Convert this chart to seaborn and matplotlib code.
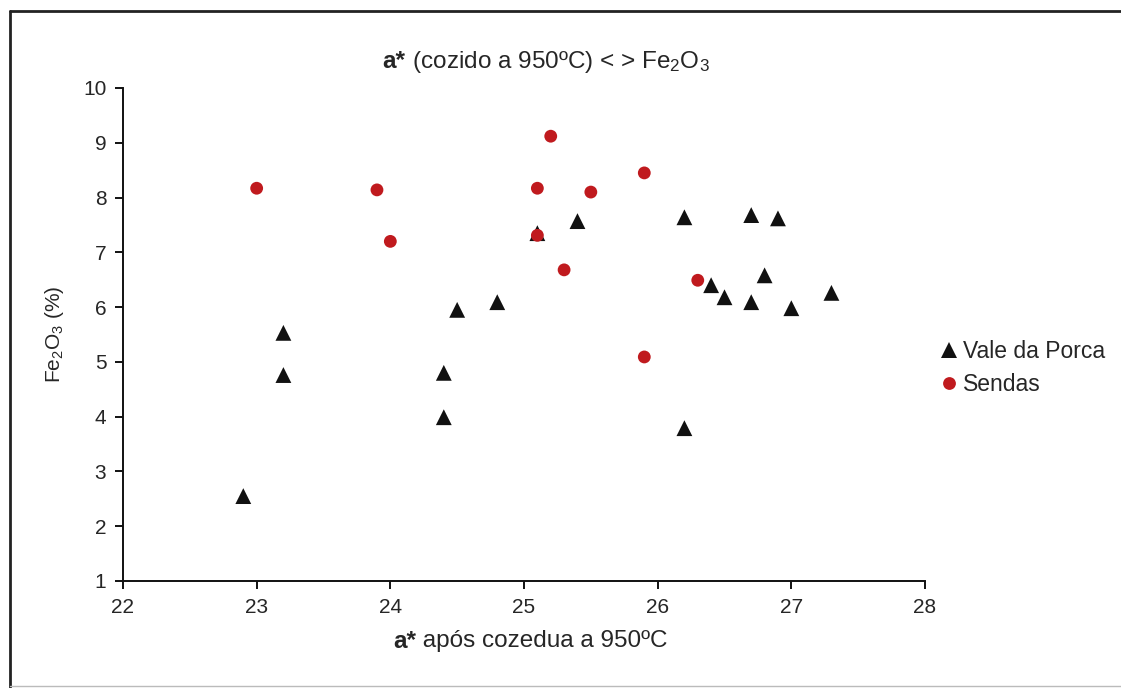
import matplotlib
matplotlib.use("Agg")
import matplotlib.pyplot as plt
import seaborn as sns
import pandas as pd
from matplotlib.lines import Line2D
from matplotlib.offsetbox import TextArea, HPacker, AnnotationBbox

# values
vale_x = [22.9, 23.2, 23.2, 24.4, 24.4, 24.5, 24.8, 25.1, 25.4, 26.2,
          26.2, 26.4, 26.5, 26.7, 26.7, 26.8, 26.9, 27.0, 27.3]
vale_y = [2.55, 5.53, 4.76, 4.80, 3.99, 5.95, 6.09, 7.35, 7.57, 7.64,
          3.79, 6.40, 6.18, 7.68, 6.09, 6.58, 7.62, 5.98, 6.26]
sendas_x = [23.0, 23.9, 24.0, 25.1, 25.1, 25.2, 25.3, 25.5, 25.9, 25.9, 26.3]
sendas_y = [8.17, 8.14, 7.20, 8.17, 7.31, 9.12, 6.68, 8.10, 8.45, 5.09, 6.49]

groups = ["Vale da Porca", "Sendas"]
x_ticks = [22, 23, 24, 25, 26, 27, 28]
y_ticks = [1, 2, 3, 4, 5, 6, 7, 8, 9, 10]

df = pd.concat([
    pd.DataFrame({"a": vale_x, "fe": vale_y, "local": groups[0]}),
    pd.DataFrame({"a": sendas_x, "fe": sendas_y, "local": groups[1]}),
], ignore_index=True)

sns.set_style("ticks")
plt.rcParams["font.family"] = ["Liberation Sans", "DejaVu Sans"]
plt.rcParams["mathtext.fontset"] = "custom"
plt.rcParams["mathtext.rm"] = "Liberation Sans"
plt.rcParams["mathtext.it"] = "Liberation Sans"

fig = plt.figure(figsize=(11.21, 6.88), dpi=100)
fig.patch.set_facecolor("white")
ax = fig.add_axes([123 / 1121, 1 - 581 / 688, (925 - 123) / 1121, (581 - 88) / 688])

sns.scatterplot(data=df, x="a", y="fe", hue="local", style="local",
                palette={groups[0]: "#111111", groups[1]: "#c01a1e"},
                markers={groups[0]: "^", groups[1]: "o"},
                size="local", sizes={groups[0]: 130, groups[1]: 85},
                linewidth=0, ax=ax)

ax.set_xlim(22, 28)
ax.set_ylim(1, 10)
ax.set_xticks(x_ticks)
ax.set_yticks(y_ticks)
ax.set_xlabel("")
ax.set_ylabel(r"Fe$_2$O$_3$ (%)", fontsize=15, labelpad=12)
for s in ["top", "right"]:
    ax.spines[s].set_visible(False)
for s in ["left", "bottom"]:
    ax.spines[s].set_linewidth(1.4)
    ax.spines[s].set_color("#111111")
ax.tick_params(direction="out", length=6, width=1.4, color="#111111",
               labelsize=15, pad=6)

# legend
handles, labels = ax.get_legend_handles_labels()
ax.get_legend().remove()
keep = [(h, l) for h, l in zip(handles, labels) if l in groups]
fig.legend([h for h, _ in keep], [l for _, l in keep],
           loc="upper left", bbox_to_anchor=(941 / 1121, 1 - 340 / 688),
           frameon=False, fontsize=16.5, handlelength=0.7, handletextpad=0.25,
           labelspacing=0.45, borderpad=0, borderaxespad=0)


def mixed_label(rest, size, x, y):
    parts = HPacker(children=[
        TextArea("a*", textprops=dict(fontsize=size, fontweight="bold")),
        TextArea(rest, textprops=dict(fontsize=size)),
    ], sep=0, align="baseline", pad=0)
    ab = AnnotationBbox(parts, (x / 1121, 1 - y / 688),
                        xycoords="figure fraction", frameon=False,
                        box_alignment=(0.5, 0.5))
    fig.add_artist(ab)


mixed_label(" (cozido a 950ºC) < > Fe$_2$O$_3$", 17.5, 546, 62)
mixed_label(" após cozedua a 950ºC", 17.5, 530, 641)

# scanned frame around the chart
fig.add_artist(Line2D([10 / 1121, 10 / 1121], [1 - 11 / 688, 0], color="#222222", lw=2))
fig.add_artist(Line2D([10 / 1121, 1], [1 - 11 / 688, 1 - 11 / 688], color="#222222", lw=2))
fig.add_artist(Line2D([10 / 1121, 1], [1 - 686 / 688, 1 - 686 / 688], color="#bbbbbb", lw=1))

fig.savefig("out.png", dpi=100, facecolor="white")
